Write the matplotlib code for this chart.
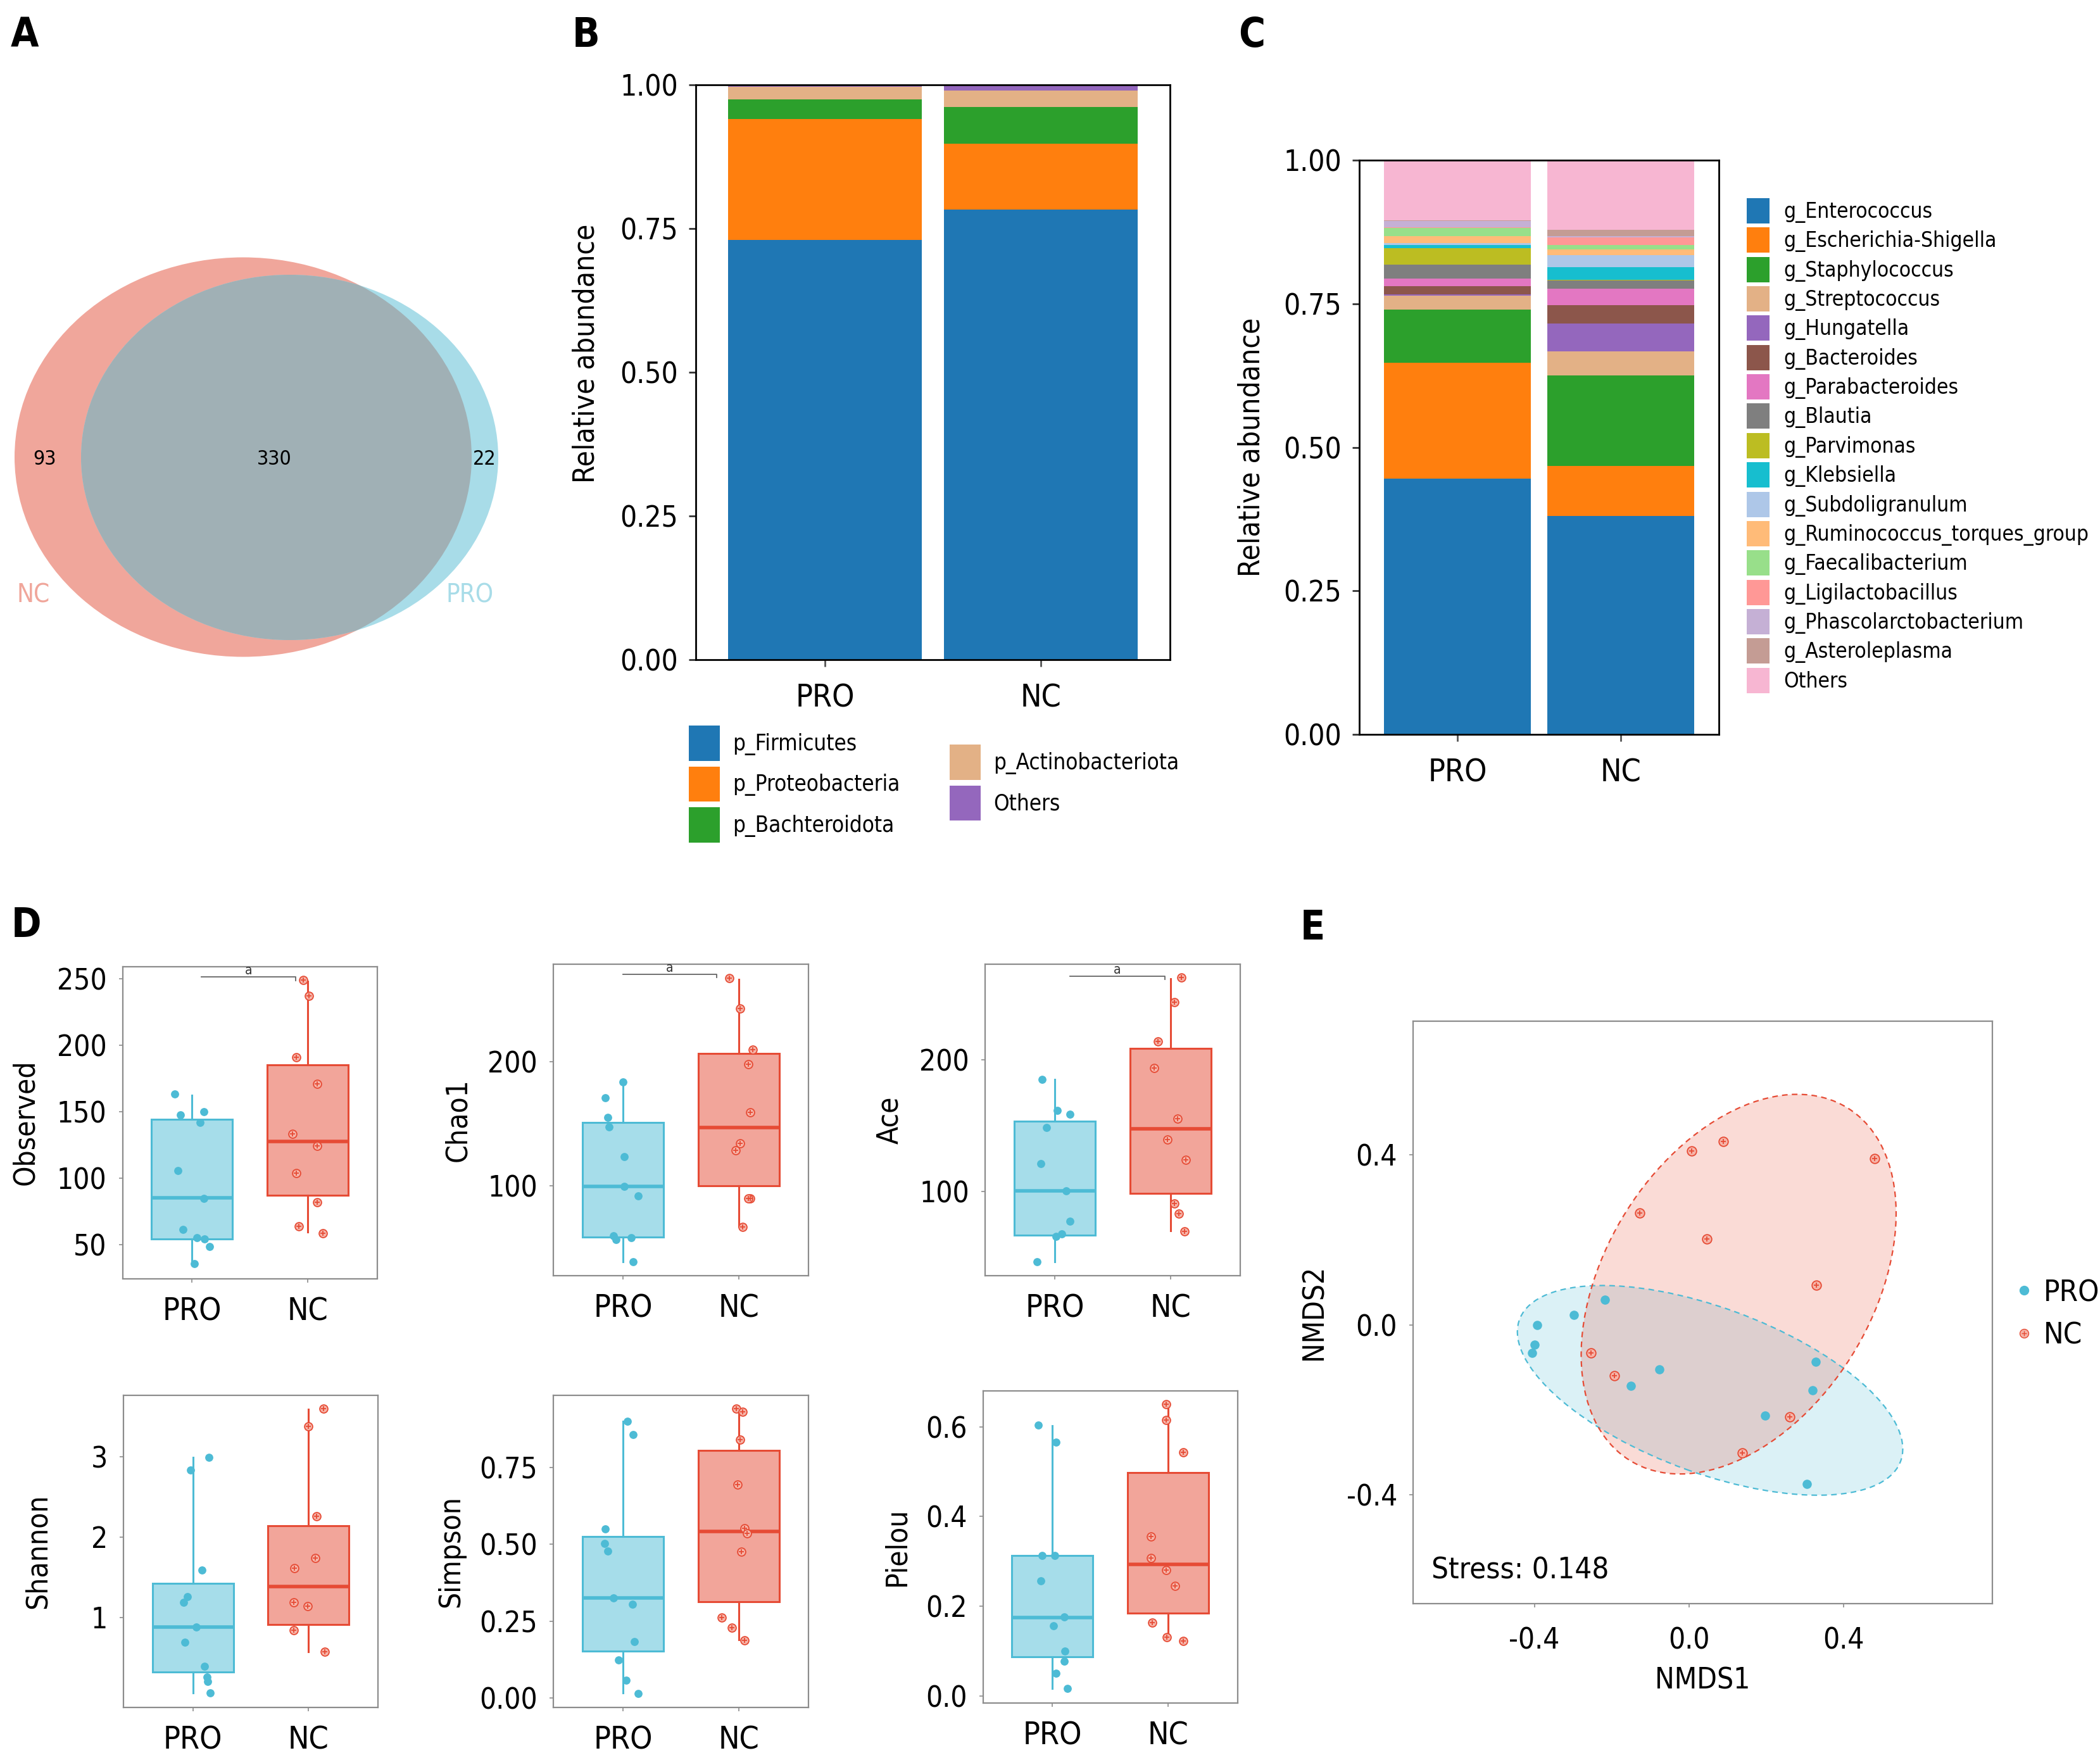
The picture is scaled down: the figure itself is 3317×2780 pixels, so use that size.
import numpy as np
import matplotlib
matplotlib.use("Agg")
import matplotlib.pyplot as plt
from matplotlib.patches import Ellipse, Patch
from matplotlib.lines import Line2D

# --- DATA ---
groups = ["PRO", "NC"]

# A : Venn (OTU counts)
venn_nc_only = 93
venn_shared = 330
venn_pro_only = 22

# B : phylum level
phyla = ["p_Firmicutes", "p_Proteobacteria", "p_Bachteroidota", "p_Actinobacteriota", "Others"]
phylum_pro = [0.730, 0.211, 0.034, 0.022, 0.003]
phylum_nc = [0.783, 0.115, 0.064, 0.028, 0.010]

# C : genus level
genera = ["g_Enterococcus", "g_Escherichia-Shigella", "g_Staphylococcus", "g_Streptococcus",
          "g_Hungatella", "g_Bacteroides", "g_Parabacteroides", "g_Blautia", "g_Parvimonas",
          "g_Klebsiella", "g_Subdoligranulum", "g_Ruminococcus_torques_group",
          "g_Faecalibacterium", "g_Ligilactobacillus", "g_Phascolarctobacterium",
          "g_Asteroleplasma", "Others"]
genus_pro = [0.445, 0.202, 0.093, 0.024, 0.002, 0.015, 0.013, 0.024, 0.029,
             0.005, 0.004, 0.012, 0.014, 0.001, 0.011, 0.001, 0.105]
genus_nc = [0.380, 0.087, 0.158, 0.042, 0.049, 0.031, 0.029, 0.015, 0.001,
            0.022, 0.021, 0.010, 0.007, 0.014, 0.002, 0.011, 0.121]

# D : alpha diversity (points, jitter offsets, box stats = whislo, q1, med, q3, whishi)
observed_pro = [163.2, 147.6, 150.2, 142.2, 105.6, 84.9, 61.8, 55.5, 54.6, 48.7, 35.7]
observed_pro_jit = [-0.15, -0.10, 0.10, 0.07, -0.12, 0.10, -0.08, 0.04, 0.11, 0.15, 0.02]
observed_nc = [249.1, 237.3, 191.0, 170.8, 133.3, 124.5, 103.9, 82.0, 63.9, 58.8]
observed_nc_jit = [-0.04, 0.01, -0.10, 0.08, -0.13, 0.08, -0.10, 0.08, -0.08, 0.13]
observed_box_pro = [34.8, 54.6, 85.4, 144.3, 162.4]
observed_box_nc = [59.7, 87.5, 127.9, 185.5, 248.2]

chao1_pro = [183.8, 171.2, 155.0, 147.7, 123.4, 99.5, 92.3, 59.9, 56.8, 58.6, 39.2]
chao1_pro_jit = [0.0, -0.15, -0.13, -0.12, 0.01, 0.01, 0.13, -0.08, -0.06, 0.07, 0.09]
chao1_nc = [267.1, 242.8, 209.9, 198.2, 159.5, 134.2, 128.8, 90.1, 90.1, 67.1]
chao1_nc_jit = [-0.08, 0.01, 0.12, 0.08, 0.10, 0.01, -0.03, 0.10, 0.08, 0.03]
chao1_box_pro = [39.2, 59.0, 99.5, 150.9, 184.2]
chao1_box_nc = [67.6, 100.0, 146.8, 206.8, 266.2]

ace_pro = [185.5, 161.7, 158.7, 148.9, 121.3, 100.4, 77.4, 68.1, 66.0, 46.8]
ace_pro_jit = [-0.11, 0.02, 0.13, -0.07, -0.12, 0.10, 0.13, 0.06, 0.01, -0.15]
ace_nc = [262.6, 243.8, 214.0, 194.0, 155.7, 139.6, 124.3, 91.1, 83.4, 69.8]
ace_nc_jit = [0.09, 0.03, -0.11, -0.14, 0.06, -0.03, 0.13, 0.03, 0.07, 0.12]
ace_box_pro = [46.8, 66.8, 100.4, 153.6, 185.5]
ace_box_nc = [70.2, 98.7, 147.7, 208.9, 261.7]

shannon_pro = [2.99, 2.83, 1.585, 1.26, 1.19, 0.88, 0.69, 0.39, 0.26, 0.20, 0.06]
shannon_pro_jit = [0.14, -0.02, 0.08, -0.05, -0.08, 0.03, -0.07, 0.10, 0.12, 0.13, 0.15]
shannon_nc = [3.60, 3.38, 2.26, 1.74, 1.61, 1.19, 1.14, 0.84, 0.575]
shannon_nc_jit = [0.13, 0.0, 0.07, 0.06, -0.12, -0.13, -0.01, -0.13, 0.14]
shannon_box_pro = [0.06, 0.317, 0.875, 1.42, 2.99]
shannon_box_nc = [0.57, 0.909, 1.383, 2.136, 3.59]

simpson_pro = [0.90, 0.858, 0.551, 0.502, 0.478, 0.325, 0.305, 0.184, 0.124, 0.057, 0.015]
simpson_pro_jit = [0.04, 0.09, -0.15, -0.16, -0.13, -0.08, 0.08, 0.10, -0.04, 0.03, 0.13]
simpson_nc = [0.942, 0.932, 0.841, 0.695, 0.553, 0.535, 0.476, 0.261, 0.228, 0.188]
simpson_nc_jit = [-0.02, 0.03, 0.01, -0.01, 0.05, 0.07, 0.02, -0.15, -0.06, 0.05]
simpson_box_pro = [0.016, 0.153, 0.325, 0.526, 0.90]
simpson_box_nc = [0.19, 0.314, 0.542, 0.805, 0.943]

pielou_pro = [0.604, 0.566, 0.3125, 0.3125, 0.256, 0.176, 0.156, 0.10, 0.0775, 0.05, 0.016]
pielou_pro_jit = [-0.12, 0.03, -0.09, 0.02, -0.10, 0.10, 0.01, 0.11, 0.10, 0.03, 0.13]
pielou_nc = [0.65, 0.616, 0.544, 0.355, 0.3075, 0.28, 0.245, 0.164, 0.131, 0.1225]
pielou_nc_jit = [-0.02, -0.02, 0.13, -0.15, -0.15, -0.02, 0.06, -0.14, -0.01, 0.13]
pielou_box_pro = [0.016, 0.0875, 0.175, 0.3125, 0.6025]
pielou_box_nc = [0.125, 0.184, 0.294, 0.4975, 0.65]

# E : NMDS
nmds_pro_x = [-0.218, -0.297, -0.392, -0.399, -0.406, -0.076, -0.150, 0.328, 0.321, 0.197, 0.306]
nmds_pro_y = [0.059, 0.024, 0.0, -0.047, -0.066, -0.104, -0.143, -0.087, -0.154, -0.213, -0.375]
nmds_nc_x = [0.008, 0.090, 0.481, -0.127, 0.047, 0.330, -0.254, -0.192, 0.262, 0.138]
nmds_nc_y = [0.409, 0.432, 0.392, 0.264, 0.203, 0.093, -0.066, -0.120, -0.216, -0.301]
# confidence ellipses: centre x, centre y, semi-axis a, semi-axis b, angle (deg)
ellipse_pro = [0.055, -0.154, 0.521, 0.196, -18.1]
ellipse_nc = [0.129, 0.096, 0.503, 0.336, 51.9]
stress = 0.148

# --- STYLE ---
PRO_C = "#4DBBD5"
NC_C = "#E64B35"
PRO_FILL = "#A6DDEA"
NC_FILL = "#F2A59A"
phylum_colors = ["#1F77B4", "#FF7F0E", "#2CA02C", "#E3B186", "#9467BD"]
genus_colors = ["#1F77B4", "#FF7F0E", "#2CA02C", "#E3B186", "#9467BD", "#8C564B", "#E377C2",
                "#7F7F7F", "#BCBD22", "#17BECF", "#AEC7E8", "#FFBB78", "#98DF8A", "#FF9896",
                "#C5B0D5", "#C49C94", "#F7B6D2"]

plt.rcParams["font.family"] = ["DejaVu Sans"]
plt.rcParams["font.stretch"] = "condensed"
plt.rcParams["axes.unicode_minus"] = False

W, H, DPI = 3317, 2780, 100
TICK = 33
CAT = 36
LAB = 33

fig = plt.figure(figsize=(W / DPI, H / DPI), dpi=DPI)


def axes_px(left, top, right, bottom):
    return fig.add_axes([left / W, 1 - bottom / H, (right - left) / W, (bottom - top) / H])


def fig_xy(x, y):
    return x / W, 1 - y / H


# --- A : Venn ---
ax_a = axes_px(0, 380, 820, 1060)
ax_a.set_xlim(0, 820)
ax_a.set_ylim(1060, 380)
ax_a.axis("off")
nc_set = Ellipse((384, 722), 722, 631, facecolor="#F0A69B", edgecolor="none")
pro_set = Ellipse((457.5, 722.5), 659, 577, facecolor="#A8DCE8", edgecolor="none")
inter = Ellipse((457.5, 722.5), 659, 577, facecolor="#A0B0B5", edgecolor="none")
ax_a.add_patch(nc_set)
ax_a.add_patch(pro_set)
ax_a.add_patch(inter)
inter.set_clip_path(nc_set)
ax_a.text(70, 725, str(venn_nc_only), fontsize=23, ha="center", va="center")
ax_a.text(433, 725, str(venn_shared), fontsize=23, ha="center", va="center")
ax_a.text(765, 725, str(venn_pro_only), fontsize=23, ha="center", va="center")
ax_a.text(53, 940, "NC", fontsize=29, color="#F0A69B", ha="center", va="center")
ax_a.text(742, 940, "PRO", fontsize=29, color="#A8DCE8", ha="center", va="center")


# --- B / C : stacked bars ---
def stacked(ax, names, colors, pro_vals, nc_vals):
    x = np.arange(len(groups))
    bottom = np.zeros(len(groups))
    handles = []
    for name, color, p, n in zip(names, colors, pro_vals, nc_vals):
        vals = np.array([p, n])
        ax.bar(x, vals, 0.9, bottom=bottom, color=color, linewidth=0, label=name)
        bottom += vals
        handles.append(Patch(facecolor=color, edgecolor="none", label=name))
    ax.set_xlim(-0.6, 1.6)
    ax.set_ylim(0, 1)
    ax.set_xticks(x, groups)
    ax.set_yticks([0, 0.25, 0.5, 0.75, 1.0], ["0.00", "0.25", "0.50", "0.75", "1.00"])
    for s in ax.spines.values():
        s.set_linewidth(2)
        s.set_color("black")
    ax.tick_params(axis="y", length=8, width=2, color="#333333", pad=12, labelsize=TICK)
    ax.tick_params(axis="x", length=8, width=2, color="#555555", pad=18, labelsize=CAT)
    ax.set_ylabel("Relative abundance", fontsize=LAB)
    ax.yaxis.label.set_va("center")
    return handles


ax_b = axes_px(1099, 134, 1848, 1042)
h_b = stacked(ax_b, phyla, phylum_colors, phylum_pro, phylum_nc)
ax_b.yaxis.set_label_coords(-0.231, 0.533)
leg_kw = dict(frameon=False, fontsize=25, borderpad=0, borderaxespad=0, handlelength=1.4,
              handleheight=2.1, labelspacing=0.25, handletextpad=0.6,
              bbox_transform=fig.transFigure, loc="upper left")
fig.legend(handles=h_b[:3], bbox_to_anchor=fig_xy(1088, 1146), **leg_kw)
fig.legend(handles=h_b[3:], bbox_to_anchor=fig_xy(1500, 1176), **leg_kw)

ax_c = axes_px(2147, 253, 2715, 1160)
h_c = stacked(ax_c, genera, genus_colors, genus_pro, genus_nc)
ax_c.yaxis.set_label_coords(-0.299, 0.5)
fig.legend(handles=h_c, bbox_to_anchor=fig_xy(2759, 313), loc="upper left",
           bbox_transform=fig.transFigure, frameon=False, fontsize=24, borderpad=0,
           borderaxespad=0, handlelength=1.08, handleheight=1.47, labelspacing=0.19,
           handletextpad=0.66)


# --- D : alpha diversity boxplots ---
alpha_panels = [
    dict(label="Observed", pro=observed_pro, pj=observed_pro_jit, nc=observed_nc, nj=observed_nc_jit,
         bp=observed_box_pro, bn=observed_box_nc, rect=(193.6, 1526.5, 596, 2019.5),
         ylim=(24.7, 259.3), ticks=[50, 100, 150, 200, 250], fmt="{:.0f}", lx=-0.379,
         bracket=(0.08, 0.895, 251.3, 2.5)),
    dict(label="Chao1", pro=chao1_pro, pj=chao1_pro_jit, nc=chao1_nc, nj=chao1_nc_jit,
         bp=chao1_box_pro, bn=chao1_box_nc, rect=(874, 1523, 1277, 2015),
         ylim=(27.9, 278.4), ticks=[100, 200], fmt="{:.0f}", lx=-0.372,
         bracket=(0.0, 0.81, 270.3, 2.5)),
    dict(label="Ace", pro=ace_pro, pj=ace_pro_jit, nc=ace_nc, nj=ace_nc_jit,
         bp=ace_box_pro, bn=ace_box_nc, rect=(1556, 1523, 1959, 2015),
         ylim=(36.2, 272.8), ticks=[100, 200], fmt="{:.0f}", lx=-0.372,
         bracket=(0.13, 0.95, 263.8, 2.5)),
    dict(label="Shannon", pro=shannon_pro, pj=shannon_pro_jit, nc=shannon_nc, nj=shannon_nc_jit,
         bp=shannon_box_pro, bn=shannon_box_nc, rect=(195, 2203.5, 597, 2697),
         ylim=(-0.122, 3.767), ticks=[1, 2, 3], fmt="{:.0f}", lx=-0.336, bracket=None),
    dict(label="Simpson", pro=simpson_pro, pj=simpson_pro_jit, nc=simpson_nc, nj=simpson_nc_jit,
         bp=simpson_box_pro, bn=simpson_box_nc, rect=(874, 2204, 1277, 2697),
         ylim=(-0.031, 0.985), ticks=[0, 0.25, 0.5, 0.75], fmt="{:.2f}", lx=-0.40, bracket=None),
    dict(label="Pielou", pro=pielou_pro, pj=pielou_pro_jit, nc=pielou_nc, nj=pielou_nc_jit,
         bp=pielou_box_pro, bn=pielou_box_nc, rect=(1552.5, 2196.5, 1955, 2690),
         ylim=(-0.016, 0.681), ticks=[0, 0.2, 0.4, 0.6], fmt="{:.1f}", lx=-0.337, bracket=None),
]


def gray_frame(ax):
    for s in ax.spines.values():
        s.set_color("#8C8C8C")
        s.set_linewidth(1.6)
    ax.tick_params(length=4, width=1.2, color="#8C8C8C", labelsize=TICK)


def nc_marker(ax, x, y, s):
    ax.scatter(x, y, s=s, marker="o", facecolor="#F6B4A8", edgecolor=NC_C, linewidth=1.3, zorder=4)
    ax.scatter(x, y, s=s * 0.35, marker="+", color=NC_C, linewidth=1.3, zorder=5)


for p in alpha_panels:
    ax = axes_px(*p["rect"])
    stats = []
    for b in (p["bp"], p["bn"]):
        stats.append(dict(whislo=b[0], q1=b[1], med=b[2], q3=b[3], whishi=b[4], fliers=[]))
    bx = ax.bxp(stats, positions=[0, 1], widths=0.7, patch_artist=True, showcaps=False,
                showfliers=False)
    for i, (edge, fill) in enumerate([(PRO_C, PRO_FILL), (NC_C, NC_FILL)]):
        bx["boxes"][i].set(facecolor=fill, edgecolor=edge, linewidth=2.2)
        bx["medians"][i].set(color=edge, linewidth=4)
        for w in bx["whiskers"][2 * i:2 * i + 2]:
            w.set(color=edge, linewidth=2.2)
    ax.scatter(np.array(p["pj"]), p["pro"], s=85, color=PRO_C, zorder=4, linewidth=0)
    nc_marker(ax, 1 + np.array(p["nj"]), p["nc"], 85)
    if p["bracket"] is not None:
        x0, x1, yb, d = p["bracket"]
        ax.plot([x0, x1, x1], [yb, yb, yb - d], color="#666666", linewidth=1.3)
        ax.text((x0 + x1) / 2, yb, "a", fontsize=15, ha="center", va="bottom", color="#333333")
    ax.set_xlim(-0.6, 1.6)
    ax.set_ylim(*p["ylim"])
    ax.set_xticks([0, 1], groups)
    ax.set_yticks(p["ticks"], [p["fmt"].format(t) for t in p["ticks"]])
    gray_frame(ax)
    ax.tick_params(axis="x", pad=16, labelsize=CAT)
    ax.tick_params(axis="y", pad=14)
    ax.set_ylabel(p["label"], fontsize=LAB)
    ax.yaxis.label.set_va("center")
    ax.yaxis.set_label_coords(p["lx"], 0.5)


# --- E : NMDS ---
ax_e = axes_px(2232, 1613, 3147, 2533)
for ell, col in [(ellipse_pro, PRO_C), (ellipse_nc, NC_C)]:
    cx, cy, a, b, ang = ell
    ax_e.add_patch(Ellipse((cx, cy), 2 * a, 2 * b, angle=ang, facecolor=col, alpha=0.2,
                           edgecolor="none", zorder=1))
    ax_e.add_patch(Ellipse((cx, cy), 2 * a, 2 * b, angle=ang, fill=False, edgecolor=col,
                           linewidth=1.6, linestyle=(0, (4, 3)), zorder=2))
ax_e.scatter(nmds_pro_x, nmds_pro_y, s=110, color=PRO_C, linewidth=0, zorder=4)
nc_marker(ax_e, nmds_nc_x, nmds_nc_y, 110)
ax_e.set_xlim(-0.714, 0.786)
ax_e.set_ylim(-0.656, 0.715)
ax_e.set_xticks([-0.4, 0.0, 0.4], ["-0.4", "0.0", "0.4"])
ax_e.set_yticks([-0.4, 0.0, 0.4], ["-0.4", "0.0", "0.4"])
gray_frame(ax_e)
ax_e.tick_params(axis="x", pad=22)
ax_e.tick_params(axis="y", pad=14)
ax_e.set_xlabel("NMDS1", fontsize=LAB)
ax_e.xaxis.label.set_va("center")
ax_e.xaxis.set_label_coords(0.5, -0.133)
ax_e.set_ylabel("NMDS2", fontsize=LAB)
ax_e.yaxis.label.set_va("center")
ax_e.yaxis.set_label_coords(-0.17, 0.5)
ax_e.text(0.032, 0.057, f"Stress: {stress}", transform=ax_e.transAxes, fontsize=34,
          ha="left", va="center")
e_handles = [
    Line2D([], [], marker="o", linestyle="", color=PRO_C, markersize=10, label="PRO"),
    (Line2D([], [], marker="o", linestyle="", markerfacecolor="#F6B4A8", markeredgecolor=NC_C,
            markersize=10),
     Line2D([], [], marker="+", linestyle="", color=NC_C, markersize=6)),
]
fig.legend(e_handles, ["PRO", "NC"], loc="upper left", bbox_to_anchor=fig_xy(3183, 2020),
           bbox_transform=fig.transFigure, frameon=False, fontsize=34, borderpad=0,
           borderaxespad=0, handlelength=0.6, handletextpad=0.36, labelspacing=0.48)

# --- panel letters ---
for letter, (x, y) in zip("ABCDE", [(39, 56), (926, 56), (1977, 56), (42, 1462), (2073, 1466)]):
    fig.text(*fig_xy(x, y), letter, fontsize=46, fontweight="bold", ha="center", va="center")

fig.savefig("out.png", dpi=DPI)
